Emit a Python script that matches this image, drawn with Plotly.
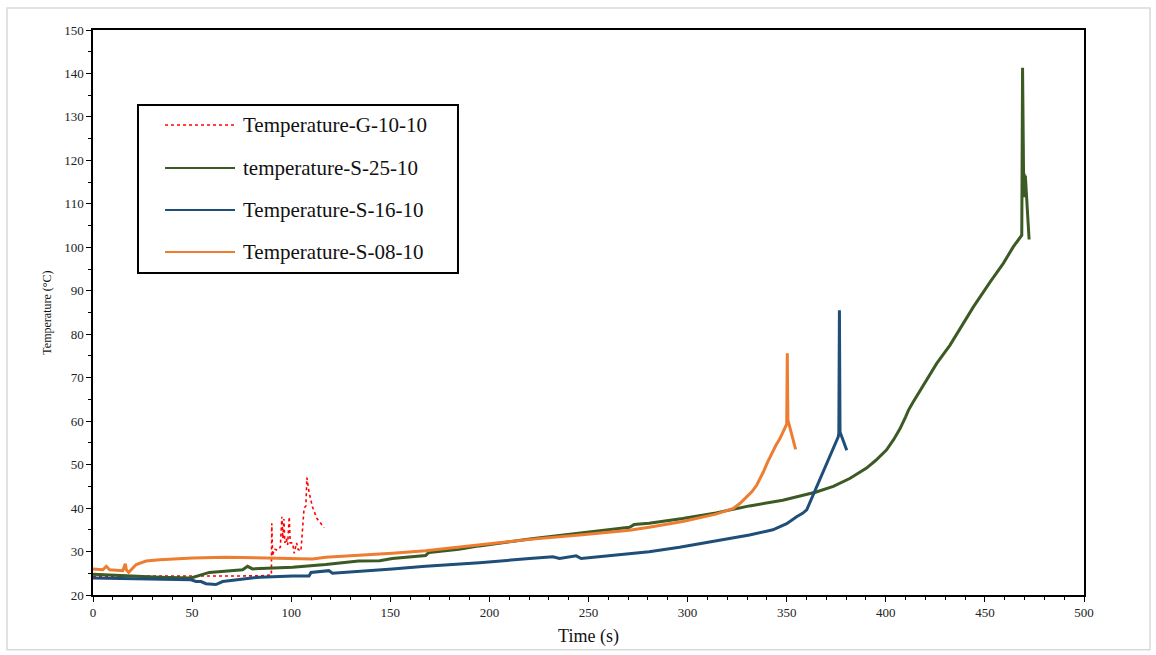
import plotly.graph_objects as go

# Temperature-G-10-10 (dotted red)
g10_t = [0, 20, 35, 50, 60, 74, 85, 90.0, 90.2, 90.6, 91.5, 93, 94.5, 95.3, 95.8, 96.3, 96.8,
         97.5, 98.2, 99, 99.5, 100.7, 101.5, 102.7, 103.5, 104.9, 105.7, 106.5, 107.4,
         107.9, 109, 110.7, 113, 116.6]
g10_T = [24.3, 24.3, 24.3, 24.3, 24.3, 24.3, 24.4, 24.6, 36.5, 29.0, 30.6, 30.3, 31.0, 38.0, 33.0,
         37.5, 32.0, 33.0, 31.5, 38.0, 32.0, 32.0, 29.6, 32.0, 30.5, 30.1, 34.2, 40.0, 40.5,
         47.0, 43.7, 40.3, 37.6, 35.5]

# temperature-S-25-10 (green)
s25_t = [0, 16.8, 33.6, 49.5, 57, 58.7, 75.5, 78, 80.5, 100.7, 117.4, 134, 144.6, 151, 167.8,
         169.5, 184.6, 195, 220.3, 245.5, 270.7, 273, 280.6, 297.5, 314.3, 331.2, 348, 364.9,
         373.5, 381.8, 390.3, 395, 400.4, 404, 407.2, 410, 411.4, 413.5, 417.3, 425.7, 432.4,
         437.4, 444.2, 452.6, 459.3, 464.3, 468.6, 469.0, 469.2, 469.6, 469.8, 470.1, 470.4,
         472.3]
s25_T = [24.8, 24.4, 24.1, 23.9, 25.0, 25.2, 25.8, 26.6, 26.0, 26.4, 27.0, 27.8, 27.9, 28.4, 29.1,
         29.8, 30.5, 31.3, 32.9, 34.2, 35.6, 36.2, 36.5, 37.6, 38.9, 40.5, 41.8, 43.7,
         45.0, 46.8, 49.2, 51.0, 53.4, 55.8, 58.3, 61.0, 62.5, 64.2, 67.1, 73.3, 77.5,
         81.3, 86.3, 92.0, 96.3, 100.1, 102.8, 141.3, 126.0, 112.0, 117.0, 111.5, 116.5,
         101.8]

# Temperature-S-16-10 (blue)
s16_t = [0, 33.6, 49.5, 52, 54.5, 57, 62, 65.4, 75.5, 84, 100.7, 109, 110, 119, 120.8, 134,
         144.6, 151, 167.8, 184.6, 195, 220.3, 232, 235.4, 243.8, 246.3, 270.7, 280.6, 295.9,
         314.3, 331.2, 343, 350, 355, 358, 360.1, 363.4, 366.5, 370.2, 373, 376.0, 376.3,
         376.6, 376.9, 380.3]
s16_T = [23.9, 23.7, 23.5, 23.1, 23.1, 22.6, 22.4, 23.1, 23.6, 24.1, 24.4, 24.4, 25.2, 25.6, 25.0,
         25.4, 25.7, 26.0, 26.6, 27.1, 27.4, 28.4, 28.8, 28.4, 29.0, 28.4, 29.4, 29.95, 31.0,
         32.4, 33.8, 35.0, 36.4, 38.0, 38.8, 39.6, 43.0, 46.5, 50.3, 53.3, 56.4, 57.2,
         85.5, 57.5, 53.3]

# Temperature-S-08-10 (orange)
s08_t = [0, 5, 6.7, 8.4, 15, 16.3, 16.8, 18, 21.8, 26.8, 33.6, 50.3, 67, 84, 100.7, 110.7, 117.4,
         134, 144.6, 151, 167.8, 184.6, 195, 220.3, 245.5, 270.7, 280.6, 297.5, 314.3, 319,
         323.1, 326.5, 329.8, 332.5, 334.9, 336.6, 338.2, 340.3, 342.4, 344.5, 346.6, 348.3,
         350.0, 350.3, 350.6, 354.5]
s08_T = [26.0, 25.8, 26.6, 25.8, 25.6, 27.2, 25.8, 25.2, 27.0, 27.8, 28.1, 28.5, 28.7, 28.6, 28.4,
         28.3, 28.7, 29.1, 29.4, 29.6, 30.2, 31.0, 31.5, 32.8, 33.8, 34.9, 35.6, 36.9, 38.6,
         39.2, 39.9, 41.1, 42.6, 43.8, 45.3, 46.7, 48.3, 50.5, 52.6, 54.4, 56.0, 57.6,
         59.3, 75.6, 60.3, 53.5]

x_ticks = [0, 50, 100, 150, 200, 250, 300, 350, 400, 450, 500]
y_ticks = [20, 30, 40, 50, 60, 70, 80, 90, 100, 110, 120, 130, 140, 150]

SERIF = "Liberation Serif"

series = [
    ("Temperature-G-10-10", g10_t, g10_T, "#FF0000", "dot", 1.6),
    ("temperature-S-25-10", s25_t, s25_T, "#3B5A24", "solid", 3),
    ("Temperature-S-16-10", s16_t, s16_T, "#1F4E79", "solid", 3),
    ("Temperature-S-08-10", s08_t, s08_T, "#ED7D31", "solid", 3),
]

fig = go.Figure()
for name, t, T, color, dash, w in series:
    fig.add_trace(go.Scatter(
        x=t, y=T, mode="lines", name=name, showlegend=False,
        line=dict(color=color, dash=dash, width=w),
    ))

axis_common = dict(
    showline=True, linecolor="black", linewidth=1.5, mirror=True,
    ticks="outside", ticklen=5, tickwidth=1, tickcolor="black",
    showgrid=False, zeroline=False,
    tickfont=dict(family=SERIF, size=13, color="#222"),
)

fig.update_xaxes(
    range=[0, 500], tickvals=x_ticks,
    minor=dict(dtick=10, ticks="outside", ticklen=3, tickcolor="black"),
    title=dict(text="Time (s)", font=dict(family=SERIF, size=18, color="#111"), standoff=10),
    **axis_common,
)
fig.update_yaxes(
    range=[20, 150], tickvals=y_ticks,
    minor=dict(dtick=5, ticks="outside", ticklen=3, tickcolor="black"),
    title=dict(text="Temperature (°C)", font=dict(family=SERIF, size=12, color="#111"), standoff=10),
    **axis_common,
)

# Legend box drawn in paper coordinates (relative to the plot area)
box = dict(x0=0.0454, x1=0.3683, y0=0.5699, y1=0.8673)
row_y = [0.8319, 0.7558, 0.6814, 0.6071]
sample_x = (0.0727, 0.1433)
text_x = 0.1493

shapes = [
    dict(type="rect", xref="paper", yref="paper",
         x0=-0.0868, x1=1.0666, y0=-0.097, y1=1.039,
         line=dict(color="#d9d9d9", width=1.5), layer="below"),
    dict(type="rect", xref="paper", yref="paper", fillcolor="white",
         line=dict(color="black", width=2), **box),
]
annotations = []
for (name, _, _, color, dash, w), yy in zip(series, row_y):
    shapes.append(dict(type="line", xref="paper", yref="paper",
                       x0=sample_x[0], x1=sample_x[1], y0=yy, y1=yy,
                       line=dict(color=color, dash=dash, width=2 if dash == "solid" else 1.6)))
    annotations.append(dict(xref="paper", yref="paper", x=text_x, y=yy,
                            xanchor="left", yanchor="middle", showarrow=False,
                            text=name, font=dict(family=SERIF, size=21, color="#111")))

fig.update_layout(
    width=1156, height=655,
    margin=dict(l=93, r=72, t=30, b=60),
    paper_bgcolor="white", plot_bgcolor="white",
    showlegend=False,
    shapes=shapes, annotations=annotations,
)

fig.write_html("out.html")
